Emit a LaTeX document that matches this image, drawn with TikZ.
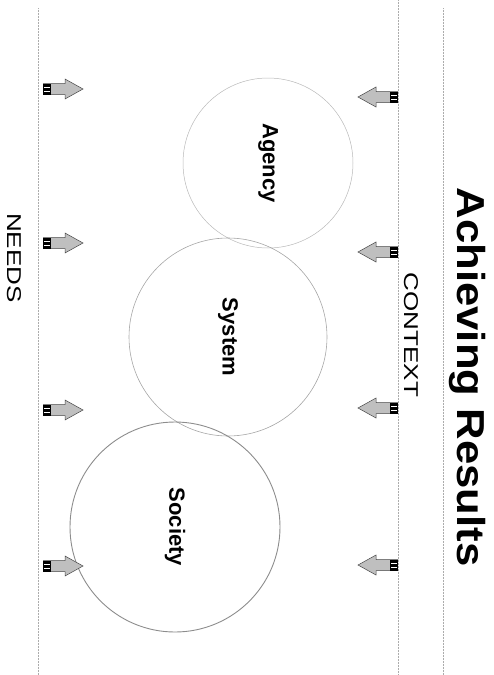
\documentclass[tikz,border=0pt]{standalone}
\usepackage{fontspec}
\usepackage{graphicx}
\setmainfont{Liberation Sans}
\begin{document}
\begin{tikzpicture}[x=1pt,y=1pt,
  guide/.style={gray!65, line width=0.5pt, densely dotted},
  ring/.style={circle, draw=gray!70, line width=0.6pt, inner sep=0pt, rotate=-90},
  vtext/.style={rotate=-90, inner sep=0pt, anchor=base},
  labelfont/.style={font=\fontsize{22}{24}\selectfont\bfseries},
  blockarrow/.pic={
    \fill[gray!50] (0,-5.5) -- (22,-5.5) -- (22,-10) -- (40,0) -- (22,10) -- (22,5.5) -- (0,5.5) -- cycle;
    \draw[gray!55!black, line width=0.5pt] (0,-5.5) -- (22,-5.5) -- (22,-10) -- (40,0) -- (22,10) -- (22,5.5) -- (0,5.5);
    \fill[black] (0,-5.5) rectangle (8,5.5);
    \draw[white, line width=0.6pt] (1,-1.8) -- (7,-1.8) (1,1.8) -- (7,1.8);
  }]
\useasboundingbox (0,0) rectangle (494,-675);

% frame lines
\draw[guide] (38,-8) -- (38,-675);
\draw[guide] (398,0) -- (398,-675);
\draw[guide] (443,-8) -- (443,-675);

% headings
\node[vtext] (title) at (457,-377) {\fontsize{39}{42}\selectfont\bfseries\scalebox{1.12}[1]{Achieving Results}};
\node[vtext] (context) at (404,-335) {\fontsize{20}{22}\selectfont\scalebox{1.3}[1]{CONTEXT}};
\node[vtext] (needs) at (7,-258) {\fontsize{20}{22}\selectfont\scalebox{1.3}[1]{NEEDS}};

% the three circles
\node[ring, draw=gray!55, line width=0.5pt, minimum size=170pt, labelfont] (agency) at (268,-163) {Agency};
\node[ring, minimum size=198pt, labelfont] (system) at (228,-337) {System};
\node[ring, draw=gray!90, line width=0.9pt, minimum size=210pt, labelfont] (society) at (175,-527) {Society};

% context arrows pointing inward
\foreach \yy in {97,252,408,565}
  \pic[rotate=180] at (398,-\yy) {blockarrow};
% needs arrows pointing inward
\foreach \yy in {89,243,410,566}
  \pic at (43,-\yy) {blockarrow};
\end{tikzpicture}
\end{document}
